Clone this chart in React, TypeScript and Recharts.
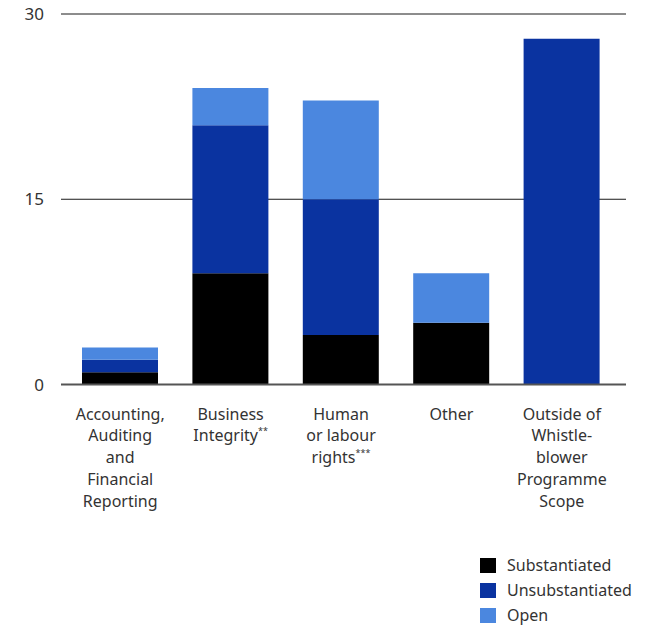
import { BarChart, Bar, XAxis, YAxis, CartesianGrid } from "recharts"

const categories = [
  "Accounting, Auditing and Financial Reporting",
  "Business Integrity",
  "Human or labour rights",
  "Other",
  "Outside of Whistleblower Programme Scope",
]

// wrapped tick text, one entry per line
const labelLines = [
  ["Accounting,", "Auditing", "and", "Financial", "Reporting"],
  ["Business", "Integrity"],
  ["Human", "or labour", "rights"],
  ["Other"],
  ["Outside of", "Whistle-", "blower", "Programme", "Scope"],
]
const labelNotes = ["", "**", "***", "", ""]

const substantiated = [1, 9, 4, 5, 0]
const unsubstantiated = [1, 12, 11, 0, 28]
const open = [1, 3, 8, 4, 0]

const yTicks = [0, 15, 30]

const series = [
  { key: "substantiated", name: "Substantiated", color: "#000000" },
  { key: "unsubstantiated", name: "Unsubstantiated", color: "#0a33a0" },
  { key: "open", name: "Open", color: "#4b87df" },
]

const data = categories.map((name, i) => ({
  name,
  substantiated: substantiated[i],
  unsubstantiated: unsubstantiated[i],
  open: open[i],
}))

const FONT = "'Noto Sans', sans-serif"
const TEXT = "#333333"

function CategoryTick(props: any) {
  const { x, y, payload } = props
  const lines = labelLines[payload.index] || [String(payload.value)]
  const note = labelNotes[payload.index]
  return (
    <g transform={`translate(${x},${y})`}>
      <text textAnchor="middle" fill={TEXT} fontSize={16} fontFamily={FONT}>
        {lines.map((line, j) => (
          <tspan key={j} x={0} dy={j === 0 ? 35 : 21.8}>
            {line}
            {j === lines.length - 1 && note ? (
              <tspan fontSize={9} dy={-7}>{note}</tspan>
            ) : null}
          </tspan>
        ))}
      </text>
    </g>
  )
}

function StatusLegend() {
  return (
    <div style={{ position: "absolute", left: 480, top: 553, fontFamily: FONT, fontSize: 16, color: TEXT, lineHeight: "25px" }}>
      {series.map((s) => (
        <div key={s.key} style={{ display: "flex", alignItems: "center", height: 25 }}>
          <span style={{ width: 16, height: 15, background: s.color, display: "inline-block", marginRight: 11 }} />
          <span>{s.name}</span>
        </div>
      ))}
    </div>
  )
}

export default function App() {
  return (
    <div style={{ position: "absolute", left: 0, top: 0, width: 652, height: 627, background: "#fff" }}>
      <BarChart
        width={652}
        height={627}
        data={data}
        margin={{ top: 14, right: 26, left: 0, bottom: 122.5 }}
      >
        <CartesianGrid vertical={false} stroke="#1a1a1a" />
        <XAxis
          dataKey="name"
          interval={0}
          height={120}
          padding={{ left: 4, right: 9 }}
          tickLine={false}
          tickSize={0}
          tickMargin={0}
          axisLine={{ stroke: "#555555", strokeWidth: 2 }}
          tick={<CategoryTick />}
        />
        <YAxis
          width={61}
          domain={[0, 30]}
          ticks={yTicks}
          axisLine={false}
          tickLine={false}
          tickSize={0}
          tickMargin={17}
          tick={{ fill: TEXT, fontSize: 17, fontFamily: FONT }}
        />
        {series.map((s) => (
          <Bar
            key={s.key}
            dataKey={s.key}
            name={s.name}
            stackId="status"
            fill={s.color}
            barSize={76}
            isAnimationActive={false}
          />
        ))}
      </BarChart>
      <StatusLegend />
    </div>
  )
}
